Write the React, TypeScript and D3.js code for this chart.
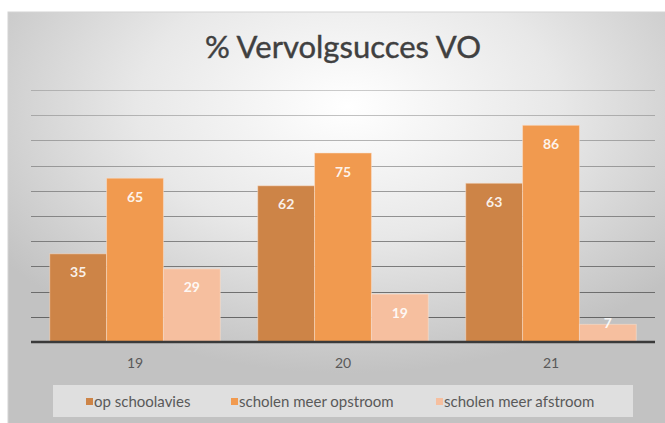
import React, { useEffect, useRef } from "react";
import * as d3 from "d3";

const years = ["19", "20", "21"];
const seriesNames = ["op schoolavies", "scholen meer opstroom", "scholen meer afstroom"];
const opSchoolavies = [35, 62, 63];
const meerOpstroom = [65, 75, 86];
const meerAfstroom = [29, 19, 7];
const colors = ["#cd8447", "#f19a4f", "#f6bf9f"];

export default function App() {
  const ref = useRef<SVGSVGElement>(null);

  useEffect(() => {
    const width = 665;
    const height = 423;
    const margin = { top: 90, left: 31, bottom: 81, right: 10 };
    const font = "Lato, 'Open Sans', sans-serif";

    const svg = d3.select(ref.current);
    svg.selectAll("*").remove();

    const defs = svg.append("defs");
    const grad = defs
      .append("radialGradient")
      .attr("id", "bg")
      .attr("cx", "50%")
      .attr("cy", "22%")
      .attr("r", "62%");
    grad.append("stop").attr("offset", "0%").attr("stop-color", "#ffffff");
    grad.append("stop").attr("offset", "50%").attr("stop-color", "#e8e8e8");
    grad.append("stop").attr("offset", "100%").attr("stop-color", "#c2c2c2");

    svg
      .append("rect")
      .attr("x", 8)
      .attr("y", 12)
      .attr("width", 680)
      .attr("height", 430)
      .attr("fill", "url(#bg)")
      .attr("stroke", "#d4d4d4");

    // title
    svg
      .append("text")
      .attr("x", 343)
      .attr("y", 58)
      .attr("text-anchor", "middle")
      .attr("font-family", font)
      .attr("font-size", 31)
      .attr("fill", "#404040")
      .attr("stroke", "#404040")
      .attr("stroke-width", 0.4)
      .text("% Vervolgsucces VO");

    const y = d3
      .scaleLinear()
      .domain([0, 100])
      .range([height - margin.bottom, margin.top]);

    const x0 = d3
      .scaleBand()
      .domain(years)
      .range([margin.left, width - margin.right])
      .paddingInner(0.18)
      .paddingOuter(0.09);

    const x1 = d3
      .scaleBand()
      .domain(seriesNames)
      .range([0, x0.bandwidth()]);

    // gridlines, fading out toward the top like the original
    const fade = d3.scaleLinear().domain([10, 100]).range([0.85, 0.3]);
    svg
      .append("g")
      .selectAll("line")
      .data(y.ticks(10).filter(d => d > 0))
      .enter()
      .append("line")
      .attr("x1", margin.left)
      .attr("x2", width - margin.right)
      .attr("y1", d => Math.round(y(d)) + 0.5)
      .attr("y2", d => Math.round(y(d)) + 0.5)
      .attr("stroke", "#555555")
      .attr("stroke-opacity", d => fade(d))
      .attr("stroke-width", 1);

    const data = [opSchoolavies, meerOpstroom, meerAfstroom].map((vals, s) =>
      vals.map((v, i) => ({ year: years[i], series: seriesNames[s], value: v, color: colors[s] }))
    ).flat();

    const g = svg.append("g");
    g.selectAll("rect")
      .data(data)
      .enter()
      .append("rect")
      .attr("x", d => x0(d.year)! + x1(d.series)!)
      .attr("y", d => y(d.value))
      .attr("width", x1.bandwidth())
      .attr("height", d => y(0) - y(d.value))
      .attr("fill", d => d.color)
      .attr("stroke", "#fbe3d2")
      .attr("stroke-opacity", 0.5)
      .attr("stroke-width", 1);

    g.selectAll("text")
      .data(data)
      .enter()
      .append("text")
      .attr("x", d => x0(d.year)! + x1(d.series)! + x1.bandwidth() / 2)
      .attr("y", d => (y(0) - y(d.value) > 30 ? y(d.value) + 18 : y(d.value) - 2))
      .attr("dominant-baseline", "central")
      .attr("text-anchor", "middle")
      .attr("font-family", font)
      .attr("font-weight", "bold")
      .attr("font-size", 14)
      .attr("fill", "#ffffff")
      .attr("fill-opacity", 0.9)
      .text(d => d.value);

    // axis
    svg
      .append("line")
      .attr("x1", margin.left)
      .attr("x2", width - margin.right)
      .attr("y1", y(0))
      .attr("y2", y(0))
      .attr("stroke", "#3a3a3a")
      .attr("stroke-width", 2.5);

    svg
      .append("g")
      .selectAll("text")
      .data(years)
      .enter()
      .append("text")
      .attr("x", d => x0(d)! + x0.bandwidth() / 2)
      .attr("y", 362)
      .attr("dominant-baseline", "central")
      .attr("text-anchor", "middle")
      .attr("font-family", font)
      .attr("font-size", 14)
      .attr("fill", "#595959")
      .text(d => d);

    // legend
    svg
      .append("rect")
      .attr("x", 53)
      .attr("y", 385)
      .attr("width", 580)
      .attr("height", 32)
      .attr("fill", "#e4e4e4")
      .attr("fill-opacity", 0.85);

    const legendX = [86, 231, 436];
    const leg = svg
      .append("g")
      .selectAll("g")
      .data(seriesNames)
      .enter()
      .append("g")
      .attr("transform", (d, i) => `translate(${legendX[i]},401)`);
    leg
      .append("rect")
      .attr("x", 0)
      .attr("y", -3)
      .attr("width", 7)
      .attr("height", 7)
      .attr("fill", (d, i) => colors[i]);
    leg
      .append("text")
      .attr("x", 8)
      .attr("y", 0)
      .attr("dominant-baseline", "central")
      .attr("font-family", font)
      .attr("font-size", 15)
      .attr("fill", "#595959")
      .text(d => d);
  }, []);

  return (
    <svg
      ref={ref}
      width={665}
      height={423}
      style={{ position: "absolute", left: 0, top: 0 }}
    ></svg>
  );
}
